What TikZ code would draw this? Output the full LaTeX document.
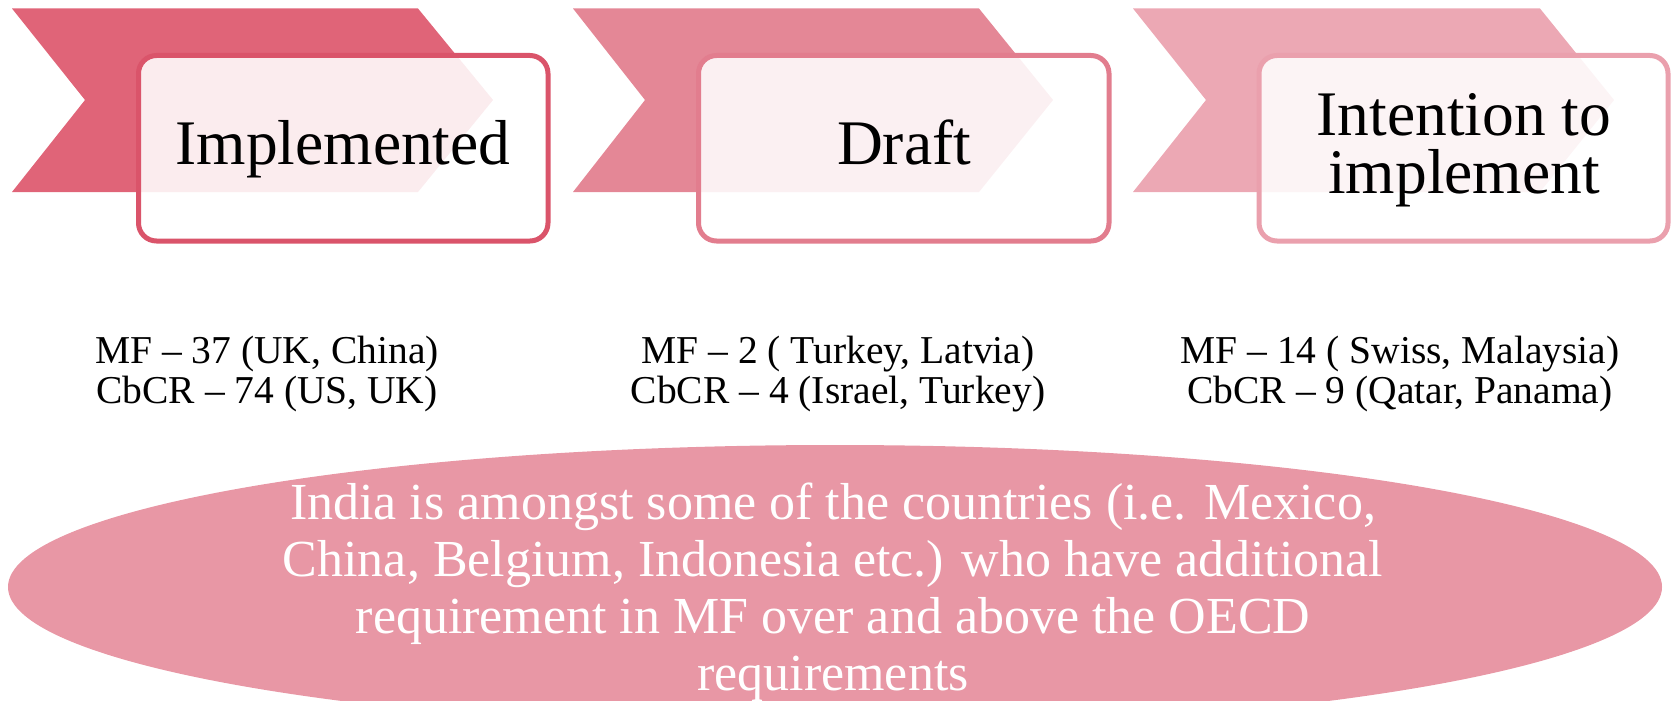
\documentclass[tikz,border=0pt]{standalone}
\usepackage{fontspec}
\setmainfont{Liberation Serif}
\definecolor{cA}{RGB}{224,100,120}
\definecolor{cB}{RGB}{228,135,150}
\definecolor{cC}{RGB}{236,168,180}
\definecolor{sA}{RGB}{218,84,106}
\definecolor{sB}{RGB}{226,125,142}
\definecolor{sC}{RGB}{234,160,173}
\definecolor{ell}{RGB}{232,151,165}
\begin{document}
\begin{tikzpicture}[x=1pt,y=-1pt,
  boxframe/.style={line width=5pt, rounded corners=18pt, fill=white, fill opacity=0.88},
  title/.style={anchor=base, text=black, font=\fontsize{63.5}{58}\selectfont, align=center, inner sep=0pt},
  stat/.style={anchor=base, text=black, font=\fontsize{39.5}{40}\selectfont, align=center, inner sep=0pt},
  note/.style={anchor=base, text=white, font=\fontsize{52}{57}\selectfont, align=center, inner sep=0pt}]
\useasboundingbox (0,0) rectangle (1673,701);
\clip (0,0) rectangle (1673,701);
% chevrons
\fill[cA] (12,8.5) -- (418,8.5) -- (493,100) -- (418,192) -- (12,192) -- (85,100) -- cycle;
\fill[cB] (573,8.5) -- (979,8.5) -- (1053,100) -- (979,192) -- (573,192) -- (645,100) -- cycle;
\fill[cC] (1133,8.5) -- (1540,8.5) -- (1614,100) -- (1540,192) -- (1133,192) -- (1206,100) -- cycle;
% boxes
\draw[boxframe, draw=sA] (138.5,55.5) rectangle (548,241);
\draw[boxframe, draw=sB] (698.5,55.5) rectangle (1109,241);
\draw[boxframe, draw=sC] (1259,55.5) rectangle (1668,241);
% titles
\node[title] (t1) at (343,164) {Implemented};
\node[title] (t2) at (904,164) {Draft};
\node[title] (t3) at (1464,193) {Intention to\\implement};
% stats
\node[stat] (s1) at (267,403) {MF – 37 (UK, China)\\CbCR – 74 (US, UK)};
\node[stat] (s2) at (838,403) {MF – 2 ( Turkey, Latvia)\\CbCR – 4 (Israel, Turkey)};
\node[stat] (s3) at (1400,403) {MF – 14 ( Swiss, Malaysia)\\CbCR – 9 (Qatar, Panama)};
% ellipse
\fill[ell] (835,587) ellipse [x radius=827, y radius=142];
\node[note] (n) at (833,690) {India is amongst some of the countries (i.e. Mexico,\\China, Belgium, Indonesia etc.) who have additional\\requirement in MF over and above the OECD\\requirements};
\end{tikzpicture}
\end{document}
